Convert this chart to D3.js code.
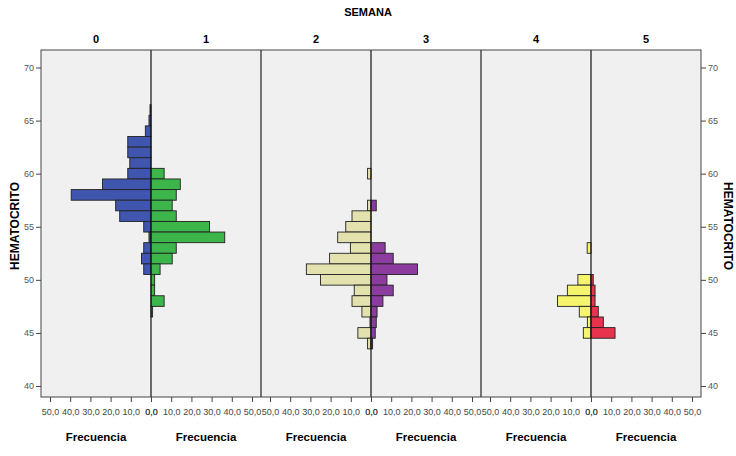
<!DOCTYPE html>
<html>
<head>
<meta charset="utf-8">
<script src="https://cdn.jsdelivr.net/npm/d3@7"></script>
<style>
  body { margin: 0; background: #fff; }
  text { font-family: "Liberation Sans", Arial, sans-serif; }
</style>
</head>
<body>
<div id="chart"></div>
<script>
var semanas = ["0", "1", "2", "3", "4", "5"];
var hematocrito = [66, 65, 64, 63, 62, 61, 60, 59, 58, 57, 56, 55, 54, 53, 52, 51, 50, 49, 48, 47, 46, 45, 44];

// frecuencias por semana (mismo orden que hematocrito)
var frec0 = [0.5, 1, 2.8, 11.5, 11.5, 10.5, 11.5, 24, 39.5, 17.5, 15.5, 3.6, 1, 3.6, 4.7, 3.6, 0, 0, 0, 0, 0, 0, 0];
var frec1 = [0, 0, 0, 0, 0, 0, 6.5, 14.5, 12.5, 10.5, 12.5, 29, 36.5, 12.5, 10.5, 4.5, 1.8, 1.8, 6.5, 0.8, 0, 0, 0];
var frec2 = [0, 0, 0, 0, 0, 0, 1.7, 0, 0, 1.7, 9.4, 12.5, 16.5, 10.2, 20.5, 32, 25, 8.3, 9.4, 4.5, 0.5, 6.5, 1.7];
var frec3 = [0, 0, 0, 0, 0, 0, 0, 0, 0, 2.6, 0, 0, 0, 7, 11, 23, 7.9, 11, 5.9, 3, 2.6, 2.1, 0.8];
var frec4 = [0, 0, 0, 0, 0, 0, 0, 0, 0, 0, 0, 0, 0, 1.9, 0, 0, 6.5, 11.7, 16.6, 5.8, 1.8, 3.8, 0];
var frec5 = [0, 0, 0, 0, 0, 0, 0, 0, 0, 0, 0, 0, 0, 0, 0, 0, 1.1, 2, 2, 3.6, 6.1, 11.9, 0];
var frecuencias = [frec0, frec1, frec2, frec3, frec4, frec5];

var colores = ["#4055ad", "#3cb54b", "#e3e1ad", "#8c3c9e", "#f5f46c", "#e8334e"];
var yTicks = [40, 45, 50, 55, 60, 65, 70];
var xTicks = [0, 10, 20, 30, 40, 50];

var width = 736, height = 456;
var plotLeft = 41, plotRight = 701, plotTop = 50, plotBottom = 397;

var svg = d3.select("#chart")
  .append("svg")
    .attr("width", width)
    .attr("height", height);

var y = d3.scaleLinear()
  .domain([40, 70])
  .range([386, 67.5]);

var pair = d3.scaleLinear()
  .domain([0, 3])
  .range([plotLeft, plotRight]);

var half = d3.scaleLinear()
  .domain([0, 50])
  .range([0, 101]);

var fmt = function(d) { return d3.format(".1f")(d).replace(".", ","); };

// fondo
svg.append("rect")
  .attr("x", plotLeft).attr("y", plotTop)
  .attr("width", plotRight - plotLeft).attr("height", plotBottom - plotTop)
  .attr("fill", "#f0f0f0");

// barras
semanas.forEach(function(s, i) {
  var p = Math.floor(i / 2);
  var center = pair(p + 0.5);
  var isLeft = i % 2 == 0;
  var data = hematocrito.map(function(h, j) { return {h: h, v: frecuencias[i][j]}; })
    .filter(function(d) { return d.v > 0; });

  svg.append("g").selectAll("rect")
    .data(data)
    .enter().append("rect")
      .attr("x", function(d) { return isLeft ? center - half(d.v) : center; })
      .attr("y", function(d) { return y(d.h + 0.5); })
      .attr("width", function(d) { return half(d.v); })
      .attr("height", function(d) { return y(d.h - 0.5) - y(d.h + 0.5); })
      .attr("fill", colores[i])
      .attr("stroke", "#222")
      .attr("stroke-width", 0.9);

  // eje inferior
  var sx = isLeft
    ? d3.scaleLinear().domain([50, 0]).range([center - 101, center])
    : d3.scaleLinear().domain([0, 50]).range([center, center + 101]);
  var ax = svg.append("g")
    .attr("transform", "translate(0," + plotBottom + ")")
    .call(d3.axisBottom(sx).tickValues(xTicks).tickFormat(fmt).tickSize(5).tickPadding(7));
  ax.select(".domain").remove();
  ax.selectAll("line").attr("stroke", "#444");
  ax.selectAll("text").attr("fill", "#444").style("font-size", "9px");

  var hc = isLeft ? center - 55 : center + 55;
  svg.append("text")
    .attr("x", hc).attr("y", 43)
    .attr("text-anchor", "middle")
    .style("font-size", "11px").style("font-weight", "bold")
    .text(s);

  svg.append("text")
    .attr("x", hc).attr("y", 441)
    .attr("text-anchor", "middle")
    .style("font-size", "11.5px").style("font-weight", "bold")
    .text("Frecuencia");
});

// lineas centrales y divisores
[0, 1, 2].forEach(function(p) {
  svg.append("line")
    .attr("x1", pair(p + 0.5)).attr("x2", pair(p + 0.5))
    .attr("y1", plotTop).attr("y2", plotBottom)
    .attr("stroke", "#111").attr("stroke-width", 1.2);
});
[1, 2].forEach(function(p) {
  svg.append("line")
    .attr("x1", pair(p)).attr("x2", pair(p))
    .attr("y1", plotTop).attr("y2", plotBottom)
    .attr("stroke", "#222").attr("stroke-width", 1.2);
});

svg.append("rect")
  .attr("x", plotLeft).attr("y", plotTop)
  .attr("width", plotRight - plotLeft).attr("height", plotBottom - plotTop)
  .attr("fill", "none")
  .attr("stroke", "#444");

// ejes verticales
var axL = svg.append("g")
  .attr("transform", "translate(" + plotLeft + ",0)")
  .call(d3.axisLeft(y).tickValues(yTicks).tickSize(5).tickPadding(2));
var axR = svg.append("g")
  .attr("transform", "translate(" + plotRight + ",0)")
  .call(d3.axisRight(y).tickValues(yTicks).tickSize(5).tickPadding(2));
[axL, axR].forEach(function(a) {
  a.select(".domain").remove();
  a.selectAll("line").attr("stroke", "#444");
  a.selectAll("text").attr("fill", "#555").style("font-size", "9px");
});

svg.append("text")
  .attr("x", 368).attr("y", 16)
  .attr("text-anchor", "middle")
  .style("font-size", "11px").style("font-weight", "bold")
  .text("SEMANA");

svg.append("text")
  .attr("transform", "translate(19,226) rotate(-90)")
  .attr("text-anchor", "middle")
  .style("font-size", "12px").style("font-weight", "bold")
  .text("HEMATOCRITO");

svg.append("text")
  .attr("transform", "translate(724,226) rotate(90)")
  .attr("text-anchor", "middle")
  .style("font-size", "12px").style("font-weight", "bold")
  .text("HEMATOCRITO");
</script>
</body>
</html>
